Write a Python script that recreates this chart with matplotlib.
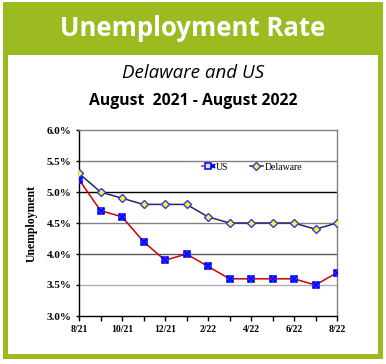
import matplotlib
matplotlib.use('Agg')
import matplotlib.pyplot as plt
from matplotlib.patches import Rectangle
from matplotlib.legend_handler import HandlerTuple

# ---- data ----
months = ['8/21', '9/21', '10/21', '11/21', '12/21', '1/22', '2/22',
          '3/22', '4/22', '5/22', '6/22', '7/22', '8/22']
us_rate = [5.2, 4.7, 4.6, 4.2, 3.9, 4.0, 3.8, 3.6, 3.6, 3.6, 3.6, 3.5, 3.7]
de_rate = [5.3, 5.0, 4.9, 4.8, 4.8, 4.8, 4.6, 4.5, 4.5, 4.5, 4.5, 4.4, 4.5]
y_ticks = [3.0, 3.5, 4.0, 4.5, 5.0, 5.5, 6.0]

GREEN = '#9CBB21'
W, H = 386, 364

fig = plt.figure(figsize=(W / 100, H / 100), dpi=100)
fig.patch.set_facecolor('white')

# ---- card frame ----
fig.patches.append(Rectangle((3 / W, (H - 359) / H), 380 / W, 357 / H,
                             transform=fig.transFigure, facecolor=GREEN,
                             edgecolor='none', zorder=-2))
fig.patches.append(Rectangle((8 / W, (H - 354) / H), 370 / W, 299 / H,
                             transform=fig.transFigure, facecolor='white',
                             edgecolor='none', zorder=-1))

fig.text(0.5, (H - 29) / H, 'Unemployment Rate', ha='center', va='center',
         color='white', fontsize=18.5, fontweight='bold', family='Open Sans')
fig.text(0.5, (H - 73) / H, 'Delaware and US', ha='center', va='center',
         color='black', fontsize=13.5, fontstyle='italic', family='Open Sans')
fig.text(0.5, (H - 101) / H, 'August  2021 - August 2022', ha='center',
         va='center', color='black', fontsize=11.3, fontweight='bold',
         family='Open Sans')

# ---- chart ----
ax = fig.add_axes([79 / W, 48 / H, 258 / W, 186 / H])
ax.set_facecolor('white')
x = list(range(len(months)))

grid_cols = {3.5: '#b0b0b0', 4.0: '#555555', 4.5: '#808080',
             5.0: '#000000', 5.5: '#808080'}
for yv, c in grid_cols.items():
    ax.axhline(yv, color=c, lw=1, zorder=1)

us_line, = ax.plot(x, us_rate, color='#CC0000', lw=1.1, zorder=3)
us_box, = ax.plot(x, us_rate, ls='none', marker='s', ms=5, mfc='#dde6ff',
                  mec='#0000FF', mew=1.1, zorder=4)
us_x, = ax.plot(x, us_rate, ls='none', marker='x', ms=3.8, mec='#0000FF',
                mew=1.4, zorder=5)
de_line, = ax.plot(x, de_rate, color='#1F2A66', lw=1.1, marker='D', ms=4.5,
                   mfc='#FFFF00', mec='#3333FF', mew=1, zorder=4)

ax.set_xlim(0, len(months) - 1)
ax.set_ylim(3.0, 6.0)
ax.set_yticks(y_ticks)
ax.set_yticklabels([f'{v:.1f}%' for v in y_ticks], fontsize=8,
                   fontweight='bold', family='Liberation Serif')
ax.set_xticks(x[::2])
ax.set_xticklabels(months[::2], fontsize=7, fontweight='bold',
                   family='Liberation Serif')
ax.set_xticks(x, minor=True)
ax.tick_params(axis='x', which='both', direction='out', length=3.5,
               width=1, pad=3)
ax.tick_params(axis='y', direction='out', length=2.5, width=1, pad=3)
ax.set_ylabel('Unemployment', fontsize=8.5, fontweight='bold',
              family='Liberation Serif', labelpad=6)

ax.spines['left'].set_color('black')
ax.spines['bottom'].set_color('black')
ax.spines['top'].set_color('#808080')
ax.spines['right'].set_color('#808080')
for s in ax.spines.values():
    s.set_linewidth(1)

leg = ax.legend([(us_line, us_box, us_x), de_line], ['US', 'Delaware'],
                handler_map={tuple: HandlerTuple(ndivide=None)},
                loc='center', bbox_to_anchor=(0.67, 0.80), ncol=2,
                frameon=False, handlelength=1.3, handletextpad=0.2,
                columnspacing=2.2, markerscale=0.8,
                prop={'family': 'Liberation Serif', 'size': 7})

fig.savefig('out.png', dpi=100, facecolor='white')
